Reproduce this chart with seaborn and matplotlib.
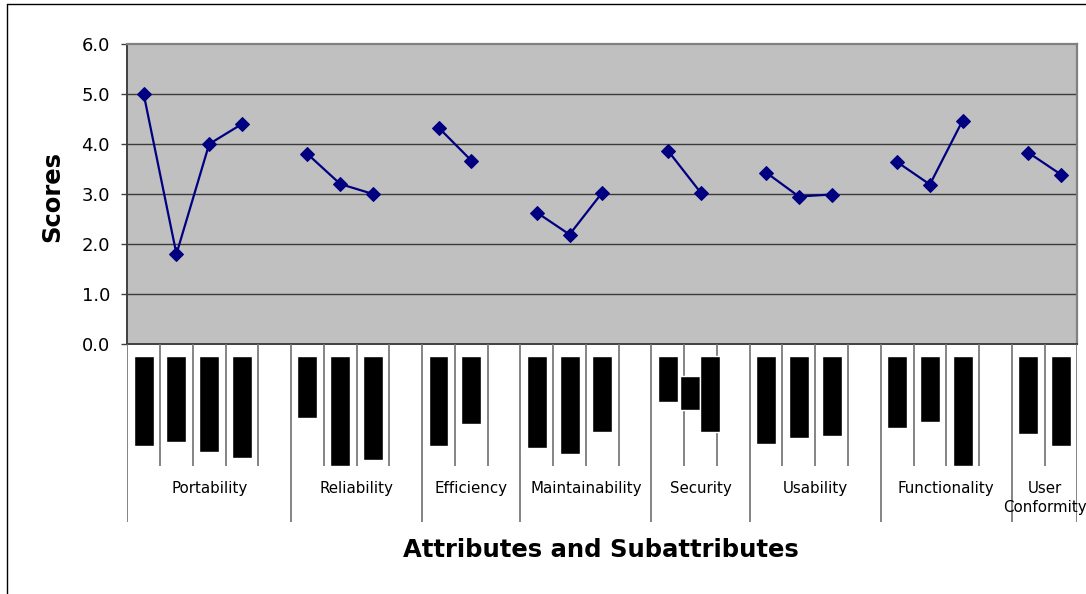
import numpy as np
import pandas as pd
import matplotlib
matplotlib.use("Agg")
import matplotlib.pyplot as plt
from matplotlib.lines import Line2D
import seaborn as sns

# ---------------- data ----------------
groups = ["Portability", "Reliability", "Efficiency", "Maintainability",
          "Security", "Usability", "Functionality", "User\nConformity"]
portability = [5.0, 1.8, 4.0, 4.4]
reliability = [3.8, 3.2, 3.0]
efficiency = [4.33, 3.67]
maintainability = [2.63, 2.19, 3.03]
security = [3.87, 3.03]
usability = [3.43, 2.95, 2.99]
functionality = [3.64, 3.19, 4.47]
user_conformity = [3.83, 3.39]
series = [portability, reliability, efficiency, maintainability,
          security, usability, functionality, user_conformity]

# unreadable sub-attribute labels (rendered as black blocks): slot, top, bottom
label_slot = [0, 1, 2, 3, 5, 6, 7, 9, 10, 12, 13, 14, 16, 16.68, 17.3,
              19, 20, 21, 23, 24, 25, 27, 28]
label_top = [11.5] * 13 + [32] + [11.5] * 9
label_bottom = [102, 97.7, 108, 113.7, 73.7, 122, 115.7, 102, 79.7, 103.7,
                109.7, 87.7, 57.7, 65.7, 87.7, 99.7, 93.7, 91.7, 83.7, 77.7,
                122, 89.7, 101.7]

yticks = [0, 1, 2, 3, 4, 5, 6]

# ---------------- build table ----------------
rows = []
starts = []
pos = 0
for g, vals in zip(groups, series):
    starts.append(pos)
    for v in vals:
        rows.append({"group": g, "slot": pos, "score": v})
        pos += 1
    pos += 1  # blank slot between groups
n_slots = pos - 1
df = pd.DataFrame(rows)

sns.set_theme(style="white")
plt.rcParams["font.family"] = ["DejaVu Sans"]
plt.rcParams["text.color"] = "black"

W, H = 1086, 594
fig = plt.figure(figsize=(W / 100, H / 100), dpi=100)

L, R = 127.3, 1077.3
ax = fig.add_axes([L / W, 1 - 344 / H, (R - L) / W, 300 / H])
ax.set_facecolor("#C0C0C0")

navy = "#000080"
sns.lineplot(data=df, x="slot", y="score", hue="group",
             palette={g: navy for g in groups}, marker="D", markersize=7.5,
             markeredgecolor=navy, linewidth=1.6, legend=False, ax=ax,
             estimator=None, sort=False)

ax.set_xlim(-0.5, n_slots - 0.5)
ax.set_ylim(0, 6)
ax.set_yticks(yticks)
ax.set_yticklabels([f"{t:.1f}" for t in yticks], fontsize=13)
ax.set_xticks([])
ax.set_xlabel("")
ax.set_ylabel("")
for t in yticks[1:-1]:
    ax.axhline(t, color="#3a3a3a", lw=1.0, zorder=0.5)
ax.tick_params(axis="y", left=True, length=4.5, width=1.0, color="#404040",
               pad=8, labelcolor="black")
for s in ["top", "right"]:
    ax.spines[s].set_color("#808080")
    ax.spines[s].set_linewidth(1.6)
for s in ["left", "bottom"]:
    ax.spines[s].set_color("#404040")
    ax.spines[s].set_linewidth(1.4)

# ---------------- category label area ----------------
ax2 = fig.add_axes([L / W, 1 - 521.7 / H, (R - L) / W, 177.7 / H])
ax2.set_xlim(-0.5, n_slots - 0.5)
ax2.set_ylim(177.7, 0)
ax2.axis("off")

ax2.bar(label_slot, np.array(label_bottom) - np.array(label_top),
        bottom=label_top, width=0.61, color="black", zorder=3)

group_edges = [s - 0.5 for s in starts] + [n_slots - 0.5]
short_edges = [b + 0.5 for b in range(n_slots - 1) if (b + 0.5) not in group_edges]
ax2.vlines(short_edges, 0, 121.7, color="#707070", lw=1.2)
ax2.vlines(group_edges, 0, 177.7, color="#707070", lw=1.2)

for g, s0, e in zip(groups, group_edges[:-1], group_edges[1:]):
    ax2.text((s0 + e) / 2, 144 if "\n" not in g else 154, g, ha="center",
             va="center", fontsize=10.8, linespacing=1.3, color="black")

fig.text(52 / W, 1 - 196 / H, "Scores", rotation=90, ha="center",
         va="center", fontsize=17.5, fontweight="bold", color="black")
fig.text(601 / W, 1 - 550 / H, "Attributes and Subattributes", ha="center",
         va="center", fontsize=17.5, fontweight="bold", color="black")

# outer chart frame
fig.add_artist(Line2D([7.3 / W, 7.3 / W], [0, 1 - 4 / H], color="black",
                      lw=1.0, transform=fig.transFigure))
fig.add_artist(Line2D([7.3 / W, 1], [1 - 4 / H, 1 - 4 / H], color="black",
                      lw=1.0, transform=fig.transFigure))

fig.savefig("out.png", dpi=100, facecolor="white")
